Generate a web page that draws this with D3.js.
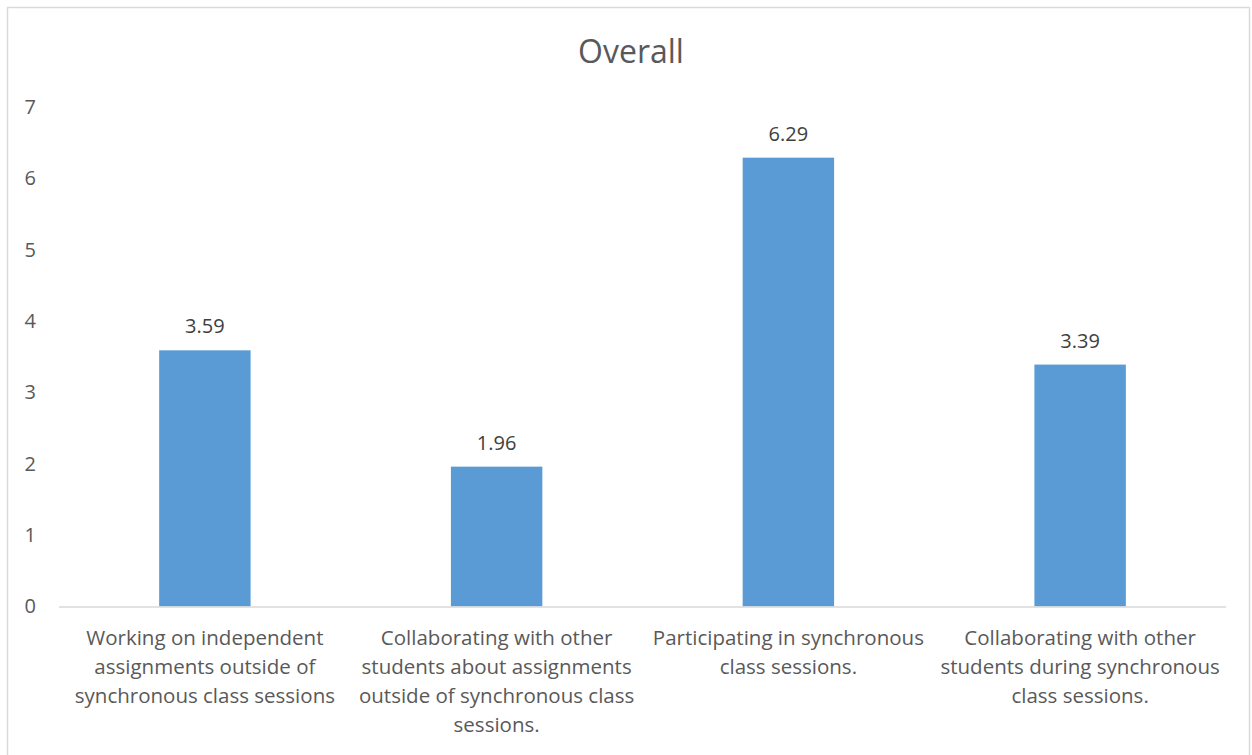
<!DOCTYPE html>
<html>
<head>
<meta charset="utf-8">
<script src="https://cdn.jsdelivr.net/npm/d3@7"></script>
<style>
  html, body { margin: 0; padding: 0; background: #fff; }
  svg { display: block; }
  text { font-family: "Open Sans", "Noto Sans", sans-serif; }
</style>
</head>
<body>
<svg id="chart" width="1252" height="755"></svg>
<script>
// Average ratings by activity
const categories = [
  ["Working on independent", "assignments outside of", "synchronous class sessions"],
  ["Collaborating with other", "students about assignments", "outside of synchronous class", "sessions."],
  ["Participating in synchronous", "class sessions."],
  ["Collaborating with other", "students during synchronous", "class sessions."]
];
const values = [3.59, 1.96, 6.29, 3.39];
const yTicks = [0, 1, 2, 3, 4, 5, 6, 7];
const title = "Overall";

const svg = d3.select("#chart");

// Outer chart frame
svg.append("rect")
  .attr("x", 7.5).attr("y", 7.5)
  .attr("width", 1242).attr("height", 760)
  .attr("fill", "#fff").attr("stroke", "#d9d9d9").attr("stroke-width", 1.5);

const plot = { left: 59, right: 1226, top: 107, bottom: 606.5 };

const x = d3.scaleBand()
  .domain(d3.range(values.length))
  .range([plot.left, plot.right])
  .paddingInner(0.6866)
  .paddingOuter(0.3433);

const y = d3.scaleLinear().domain([0, 7]).range([plot.bottom, plot.top]);

// Title
svg.append("text")
  .attr("x", 631).attr("y", 63)
  .attr("text-anchor", "middle")
  .attr("font-size", 32)
  .attr("fill", "#595959")
  .text(title);

// Y axis labels
const yAxis = d3.axisLeft(y).tickValues(yTicks).tickSize(0).tickPadding(0).tickFormat(d3.format("d"));
const yg = svg.append("g").attr("transform", "translate(36,0)").call(yAxis);
yg.select(".domain").remove();
yg.selectAll("text")
  .attr("font-family", "Open Sans, Noto Sans, sans-serif")
  .attr("font-size", 20)
  .attr("fill", "#595959");

// Bars
svg.append("g").selectAll("rect")
  .data(values)
  .join("rect")
  .attr("x", (d, i) => x(i))
  .attr("width", x.bandwidth())
  .attr("y", d => y(d))
  .attr("height", d => y(0) - y(d))
  .attr("fill", "#5b9bd5");

// Baseline
svg.append("line")
  .attr("x1", plot.left).attr("x2", plot.right)
  .attr("y1", y(0) + 0.5).attr("y2", y(0) + 0.5)
  .attr("stroke", "#d9d9d9").attr("stroke-width", 1.5);

// Data labels
svg.append("g").selectAll("text")
  .data(values)
  .join("text")
  .attr("x", (d, i) => x(i) + x.bandwidth() / 2)
  .attr("y", d => y(d) - 17)
  .attr("text-anchor", "middle")
  .attr("font-size", 20)
  .attr("fill", "#404040")
  .text(d => d.toFixed(2));

// Category labels
const cat = svg.append("g").selectAll("text")
  .data(categories)
  .join("text")
  .attr("text-anchor", "middle")
  .attr("font-size", 20.5)
  .attr("fill", "#595959");
cat.each(function(lines, i) {
  const t = d3.select(this);
  lines.forEach((ln, j) => {
    t.append("tspan")
      .attr("x", x(i) + x.bandwidth() / 2)
      .attr("y", 645 + j * 29)
      .text(ln);
  });
});
</script>
</body>
</html>
